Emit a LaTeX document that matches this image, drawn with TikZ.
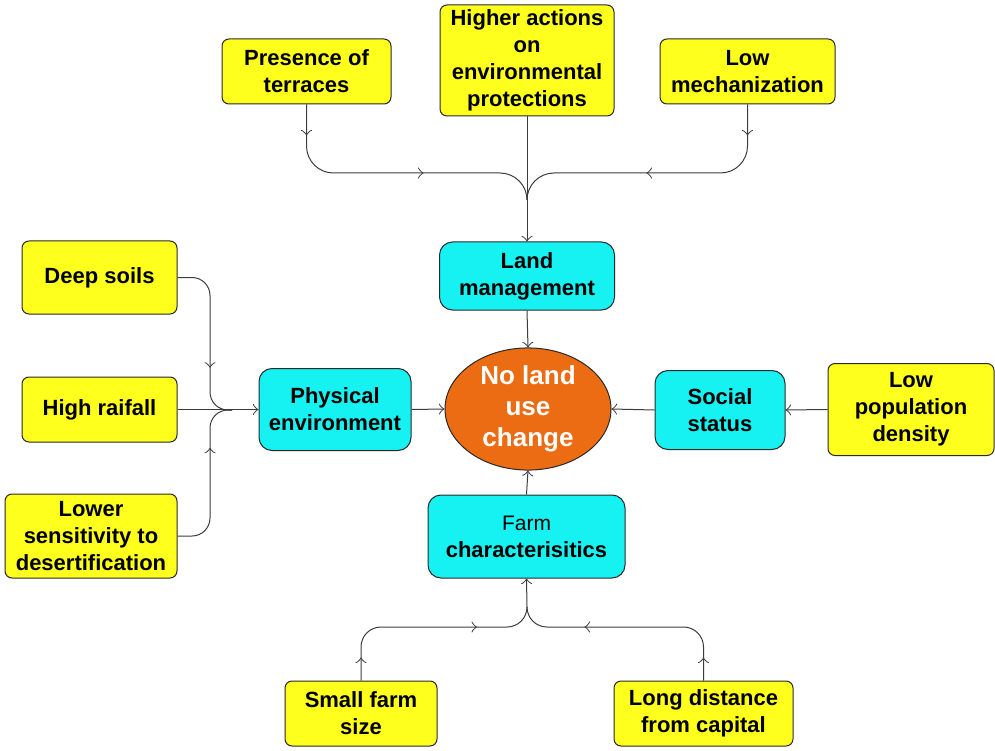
\documentclass[tikz,border=0pt]{standalone}
\usepackage{fontspec}
\setmainfont{Liberation Sans}
\usetikzlibrary{arrows.meta,shapes.geometric,decorations.markings}
\definecolor{yfill}{RGB}{255,255,30}
\definecolor{cfill}{RGB}{22,242,242}
\definecolor{ofill}{RGB}{236,108,20}
\definecolor{linec}{RGB}{60,60,60}
\definecolor{edgec}{RGB}{40,40,40}
\tikzset{
  txt/.style={inner sep=0pt, align=center, font=\bfseries\fontsize{22}{27}\selectfont},
  ybox/.style={txt, draw=edgec, line width=1pt, fill=yfill, rounded corners=7pt},
  cbox/.style={txt, draw=edgec, line width=1pt, fill=cfill, rounded corners=13pt},
  conn/.style={draw=linec, line width=1pt},
  marks/.style={postaction={decorate}, decoration={markings, #1}},
  >={Classical TikZ Rightarrow[length=5.5pt,width=11pt]}
}
\begin{document}
\begin{tikzpicture}[x=1pt,y=-1pt]
\useasboundingbox (0,0) rectangle (995,751);
% top row
\node[ybox, minimum width=169pt, minimum height=65pt] (pres) at (306.5,71.5) {Presence of\\terraces};
\node[ybox, minimum width=174pt, minimum height=111pt] (higher) at (527,60.5) {Higher actions\\on\\environmental\\protections};
\node[ybox, minimum width=175pt, minimum height=65pt] (lowmech) at (747.5,71.5) {Low\\mechanization};
% middle
\node[cbox, minimum width=175pt, minimum height=68pt] (land) at (527,276) {Land\\management};
\node[ybox, minimum width=155pt, minimum height=73pt] (deep) at (99.5,277.5) {Deep soils};
\node[ybox, minimum width=155pt, minimum height=65pt] (raif) at (99.5,409.5) {High raifall};
\node[ybox, minimum width=172pt, minimum height=84pt] (lower) at (91,536) {Lower\\sensitivity to\\desertification};
\node[cbox, minimum width=152pt, minimum height=82pt] (phys) at (335,409.5) {Physical\\environment};
\node[ellipse, draw=edgec, line width=1pt, fill=ofill, inner sep=0pt, minimum width=166pt, minimum height=120pt, align=center, text=white, font=\bfseries\fontsize{26}{31}\selectfont] (core) at (528,409) {No land\\use\\change};
\node[cbox, minimum width=130pt, minimum height=79pt] (social) at (720,410) {Social\\status};
\node[ybox, minimum width=166pt, minimum height=92pt] (lowpop) at (911,409.5) {Low\\population\\density};
% bottom
\node[cbox, minimum width=197pt, minimum height=83pt] (farm) at (526.5,536.5) {{\mdseries\fontsize{21}{27}\selectfont Farm}\\characterisitics};
\node[ybox, minimum width=152pt, minimum height=65pt] (small) at (361,713.5) {Small farm\\size};
\node[ybox, minimum width=179pt, minimum height=65pt] (longd) at (703.5,713.5) {Long distance\\from capital};
% merge points
\coordinate (mtop) at (527,200);
\coordinate (mleft) at (232,410);
\coordinate (mbot) at (527,607);
% top connectors
\draw[conn, ->] (higher.south) -- (land.north);
\draw[conn, rounded corners=27pt, marks={mark=at position 31pt with {\arrow{>}}, mark=at position 174pt with {\arrow{>}}}]
  (pres.south) |- ([yshift=27pt]mtop) -- (mtop);
\draw[conn, rounded corners=27pt, marks={mark=at position 31pt with {\arrow{>}}, mark=at position 158pt with {\arrow{>}}}]
  (lowmech.south) |- ([yshift=27pt]mtop) -- (mtop);
% left connectors
\draw[conn, ->] (raif.east) -- (phys.west);
\draw[conn, rounded corners=18pt, marks={mark=at position 115pt with {\arrow{>}}}]
  (deep.east) -| ([xshift=-22pt]mleft) -- (mleft);
\draw[conn, rounded corners=18pt, marks={mark=at position 113pt with {\arrow{>}}}]
  (lower.east) -| ([xshift=-22pt]mleft) -- (mleft);
% to core
\draw[conn, ->] (land.south) -- (core.north);
\draw[conn, ->] (phys.east) -- (core.west);
\draw[conn, ->] (social.west) -- (core.east);
\draw[conn, ->] (lowpop.west) -- (social.east);
\draw[conn, ->] (farm.north) -- (core.south);
% bottom connectors
\draw[conn, ->] (mbot) -- (farm.south);
\draw[conn, rounded corners=20pt, marks={mark=at position 23pt with {\arrow{>}}, mark=at position 161pt with {\arrow{>}}}]
  (small.north) |- ([yshift=-20pt]mbot) -- (mbot);
\draw[conn, rounded corners=20pt, marks={mark=at position 23pt with {\arrow{>}}, mark=at position 164pt with {\arrow{>}}}]
  (longd.north) |- ([yshift=-20pt]mbot) -- (mbot);
\end{tikzpicture}
\end{document}
